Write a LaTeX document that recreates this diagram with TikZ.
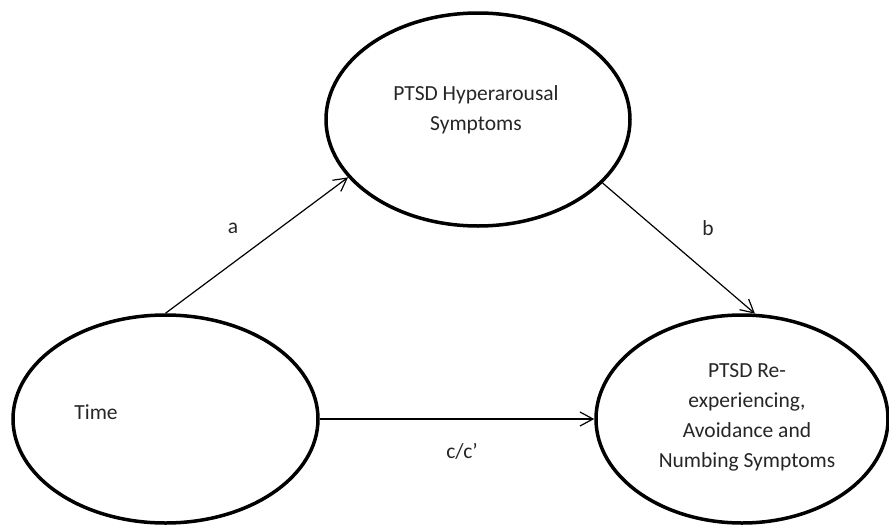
\documentclass[tikz,border=0pt]{standalone}
\usepackage{fontspec}
\setmainfont{Carlito}
\usetikzlibrary{arrows.meta,shapes.geometric}
\tikzset{
  ell/.style={draw=black, line width=3.5pt, ellipse, inner sep=0pt},
  lbl/.style={font=\fontsize{21.5}{30}\selectfont, text=black!85, inner sep=0pt, align=center},
  arr/.style={line width=1.2pt, -{Straight Barb[length=13pt,width=14pt,line width=1.2pt]}}
}
\begin{document}
\begin{tikzpicture}[x=1pt,y=-1pt]
\useasboundingbox (0,0) rectangle (889,525);
\node[ell, minimum width=304pt, minimum height=213pt] (top) at (478,119.5) {};
\node[ell, minimum width=305pt, minimum height=208pt] (left) at (165.5,419) {};
\node[ell, minimum width=292pt, minimum height=208pt] (right) at (742,419) {};
\node[lbl] (toptxt) at (476,110) {PTSD Hyperarousal\\Symptoms};
\node[lbl] (lefttxt) at (96,412) {Time};
\node[lbl] (righttxt) at (747,417.5) {PTSD Re-\\experiencing,\\Avoidance and\\Numbing Symptoms};
\draw[arr] (left.north) -- (top.204);
\draw[arr] (top.333) -- (right.83);
\draw[arr] (left.east) -- (right.west);
\node[lbl] (a) at (233,228) {a};
\node[lbl] (b) at (708,228) {b};
\node[lbl] (c) at (462,451) {c/c’};
\end{tikzpicture}
\end{document}
